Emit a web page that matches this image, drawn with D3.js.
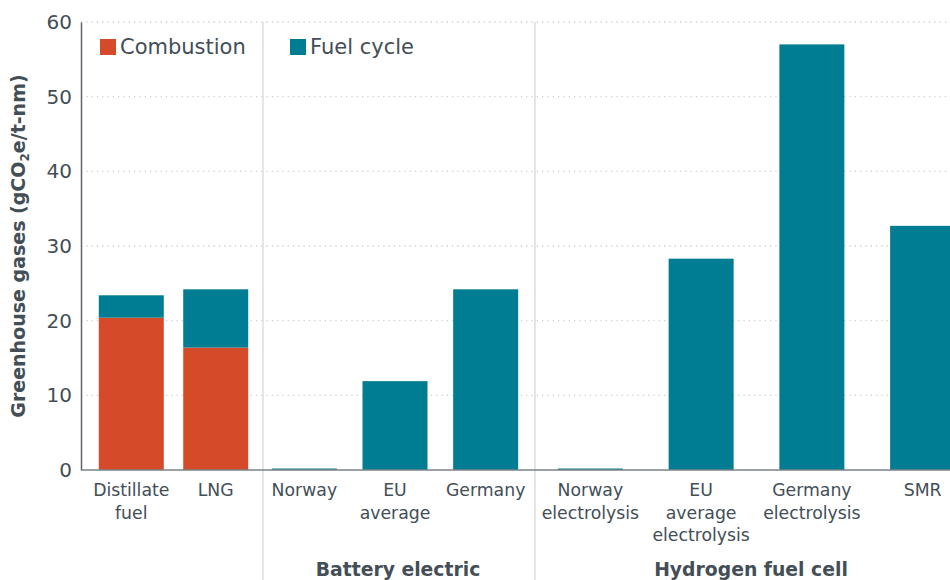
<!DOCTYPE html>
<html><head><meta charset="utf-8">
<script src="https://cdn.jsdelivr.net/npm/d3@7"></script>
<style>body{margin:0;background:#fff}svg{display:block}text{font-family:"DejaVu Sans",sans-serif;fill:#434e56}</style>
</head><body><svg id="c" width="950" height="580"></svg>
<script>
const groups = ["Fossil", "Battery electric", "Hydrogen fuel cell"];
const categories = [
  ["Distillate fuel", "LNG"],
  ["Norway", "EU average", "Germany"],
  ["Norway electrolysis", "EU average electrolysis", "Germany electrolysis", "SMR"]
];
const categoryLines = [
  [["Distillate","fuel"],["LNG"]],
  [["Norway"],["EU","average"],["Germany"]],
  [["Norway","electrolysis"],["EU","average","electrolysis"],["Germany","electrolysis"],["SMR"]]
];
const combustion = [[20.4, 16.4],[0,0,0],[0,0,0,0]];
const fuelCycle = [[3.0, 7.8],[0.2, 11.9, 24.2],[0.2, 28.3, 57.0, 32.7]];
const seriesNames = ["Combustion", "Fuel cycle"];
const yTicks = [0,10,20,30,40,50,60];

(function(){
const colors = {"Combustion":"#d54a28","Fuel cycle":"#007d92"};
const svg = d3.select("#c");
const mLeft = 81, mTop = 22, mBottom = 470, mRight = 950;
const y = d3.scaleLinear().domain([0,60]).range([mBottom, mTop]);
const groupRanges = [[84,263],[259,531],[535,978]];
const dividers = [263, 535];
const pads = [0.06, 0, 0];
const barW = 65;

svg.append("g").selectAll("line").data(yTicks.filter(d=>d>0)).join("line")
  .attr("x1", mLeft).attr("x2", mRight).attr("y1", d=>y(d)).attr("y2", d=>y(d))
  .attr("stroke","#cfcfcf").attr("stroke-width",1.3).attr("stroke-dasharray","1.3,4");
svg.append("g").selectAll("line").data(dividers).join("line")
  .attr("x1", d=>d).attr("x2", d=>d).attr("y1", mTop).attr("y2", 580)
  .attr("stroke","#dcdcdc").attr("stroke-width",1.5);

groups.forEach((g, gi) => {
  const xb = d3.scaleBand().domain(categories[gi]).range(groupRanges[gi]).paddingInner(0).paddingOuter(pads[gi]);
  const cx = c => xb(c) + xb.bandwidth()/2;
  const gg = svg.append("g");
  categories[gi].forEach((c, i) => {
    const cb = combustion[gi][i], fc = fuelCycle[gi][i];
    if (cb > 0) gg.append("rect").attr("x", cx(c)-barW/2).attr("width", barW)
      .attr("y", y(cb)).attr("height", y(0)-y(cb)).attr("fill", colors["Combustion"]);
    gg.append("rect").attr("x", cx(c)-barW/2).attr("width", barW)
      .attr("y", y(cb+fc)).attr("height", y(cb)-y(cb+fc)).attr("fill", colors["Fuel cycle"]);
    const t = gg.append("text").attr("x", cx(c)).attr("y", 496).attr("text-anchor","middle").attr("font-size",17.3);
    categoryLines[gi][i].forEach((ln, k) => t.append("tspan").attr("x", cx(c)).attr("dy", k?22.5:0).text(ln));
  });
  if (gi > 0) {
    svg.append("text").attr("x", gi===1?398:751).attr("y", 576).attr("text-anchor","middle")
      .attr("font-size",18.8).attr("font-weight","bold").text(g);
  }
});

const ya = svg.append("g").attr("transform",`translate(${mLeft},0)`)
  .call(d3.axisLeft(y).tickValues(yTicks).tickSize(0).tickPadding(9));
ya.select(".domain").attr("stroke","#5d666c").attr("stroke-width",1.5);
ya.selectAll("text").attr("font-size",20).attr("font-family","DejaVu Sans").attr("fill","#434e56");
svg.append("line").attr("x1",mLeft).attr("x2",mRight).attr("y1",mBottom).attr("y2",mBottom)
  .attr("stroke","#7a8287").attr("stroke-width",1.5);

const yl = svg.append("text").attr("transform",`translate(25,${(mTop+mBottom)/2}) rotate(-90)`)
  .attr("text-anchor","middle").attr("font-size",19).attr("font-weight","bold");
yl.append("tspan").text("Greenhouse gases (gCO");
yl.append("tspan").attr("font-size",12).attr("dy",4).text("2");
yl.append("tspan").attr("dy",-4).text("e/t-nm)");

const lg = svg.append("g");
[[100,"Combustion"],[290,"Fuel cycle"]].forEach(([lx,n]) => {
  lg.append("rect").attr("x",lx).attr("y",39).attr("width",16).attr("height",16).attr("fill",colors[n]);
  lg.append("text").attr("x",lx+20).attr("y",54).attr("font-size",21).text(n);
});
})();
</script></body></html>
